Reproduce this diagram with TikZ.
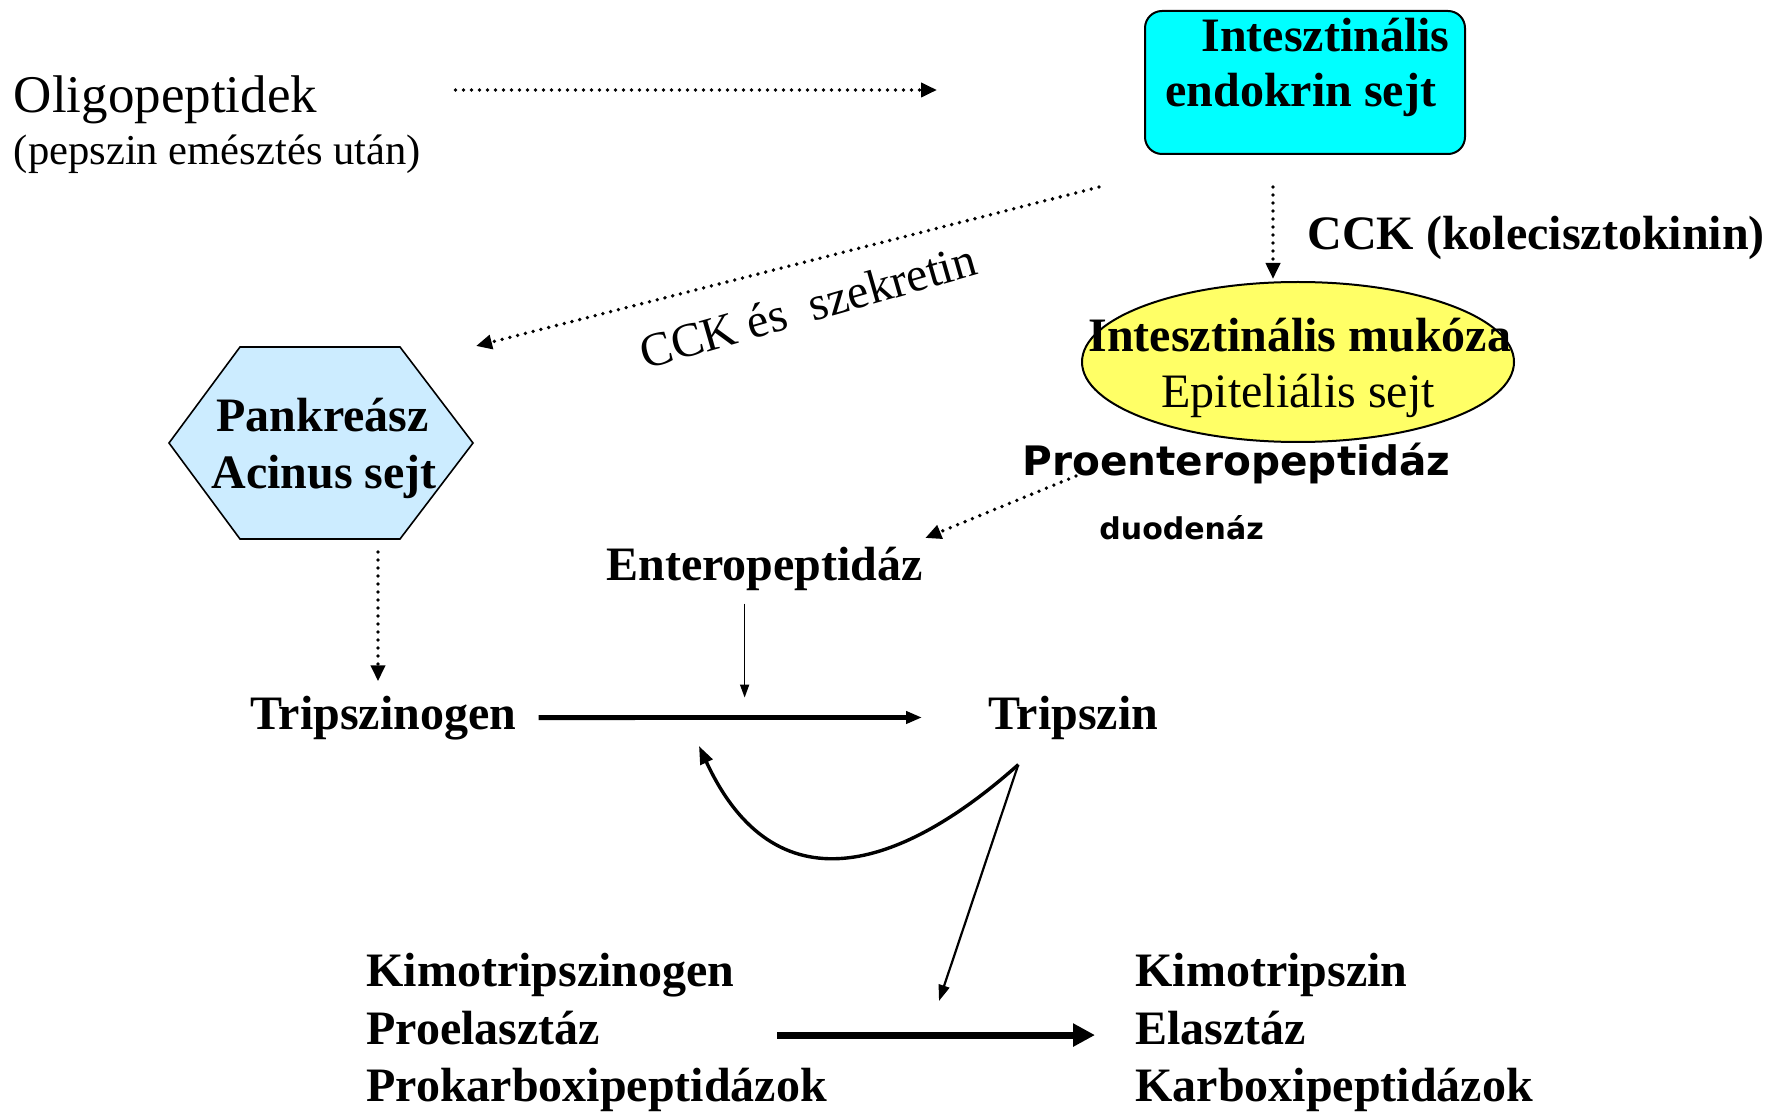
\documentclass[tikz,border=0pt]{standalone}
\usepackage{fontspec}
\setmainfont{Liberation Serif}
\newfontfamily\blacksans{DejaVu Sans}
\usetikzlibrary{arrows.meta,calc,shapes.geometric}
\definecolor{endocyan}{HTML}{00FFFF}
\definecolor{mucyellow}{HTML}{FFFF66}
\definecolor{acinblue}{HTML}{CCECFF}
\tikzset{
  lbl/.style={inner sep=0pt, anchor=base west, font=\fontsize{24}{28}\selectfont\bfseries},
  plain/.style={inner sep=0pt, anchor=base west, font=\fontsize{24}{28}\selectfont},
  cell/.style={draw=black, line width=1pt},
  dotarr/.style={-{Triangle[length=8pt,width=7pt]}, line width=1.9pt, dash pattern=on 0pt off 4pt, line cap=round},
  thinarr/.style={-{Triangle[length=6.5pt,width=4.5pt]}, line width=0.8pt},
  thickarr/.style={-{Triangle[length=8pt,width=6pt]}, line width=2.4pt},
  curvearr/.style={-{Triangle[length=9pt,width=6.5pt]}, line width=1.7pt},
  medarr/.style={-{Triangle[length=8pt,width=5.5pt]}, line width=1.1pt},
  bigarr/.style={-{Triangle[length=11pt,width=11pt]}, line width=3.5pt}
}
\begin{document}
\begin{tikzpicture}[x=0.5pt,y=-0.5pt]
  \useasboundingbox (0,0) rectangle (1767,1112);
  \node[plain, font=\fontsize{26.5}{30}\selectfont] (oligo) at (13.5,113) {Oligopeptidek};
  \node[plain, font=\fontsize{21.3}{25}\selectfont] (pepsin) at (13.5,164.5) {(pepszin emésztés után)};
  \node[cell, fill=endocyan, rounded corners=8.5pt, minimum width=160pt, minimum height=71.5pt, inner sep=0pt] (endo) at (1305,82.5) {};
  \node[lbl] (endoA) at (1201,52) {Intesztinális};
  \node[lbl] (endoB) at (1165,107) {endokrin sejt};
  \node[lbl] (cck) at (1307,250) {CCK (kolecisztokinin)};
  \node[cell, fill=mucyellow, ellipse, minimum width=216pt, minimum height=80pt, inner sep=0pt] (mucosa) at (1298,362) {};
  \node[lbl] (mucA) at (1088,352) {Intesztinális mukóza};
  \node[plain] (mucB) at (1161,408) {Epiteliális sejt};
  \node[inner sep=0pt, anchor=base west, font=\blacksans\bfseries\fontsize{20.3}{24}\selectfont] (proent) at (1022,476) {Proenteropeptidáz};
  \node[inner sep=0pt, anchor=base west, font=\blacksans\bfseries\fontsize{15}{18}\selectfont] (duod) at (1099,539) {duodenáz};
  % acinus cell
  \draw[cell, line width=0.8pt, fill=acinblue] (169,443) -- (240,347) -- (400,347) coordinate (hexNE) -- (473,443) -- (400,539) -- (240,539) -- cycle;
  \coordinate (hexS) at (378,539);
  \node[lbl] (panc) at (216,432) {Pankreász};
  \node[lbl] (acin) at (211,488) {Acinus sejt};
  \node[plain, anchor=center, rotate=16] (cckSek) at (808,306) {CCK és\ \ szekretin};
  \node[lbl] (entero) at (606,580) {Enteropeptidáz};
  \node[lbl] (tgen) at (250,729) {Tripszinogen};
  \node[lbl] (tsin) at (988,729) {Tripszin};
  \node[lbl] (kgen) at (366,986) {Kimotripszinogen};
  \node[lbl] (proel) at (366,1044) {Proelasztáz};
  \node[lbl] (pcarb) at (366,1101) {Prokarboxipeptidázok};
  \node[lbl] (ksin) at (1135,986) {Kimotripszin};
  \node[lbl] (elast) at (1135,1044) {Elasztáz};
  \node[lbl] (carb) at (1135,1101) {Karboxipeptidázok};

  \draw[dotarr] ($(oligo.base east)+(138,-23)$) -- ($(endo.west)+(-207,7.5)$);
  \draw[dotarr] ($(endo.south)+(-206,32)$) -- ($(hexNE)+(76,-1)$);
  \draw[dotarr] ($(endo.south)+(-32,32)$) -- ($(mucosa.north)+(-25,-2)$);
  \draw[dotarr] ($(proent.base west)+(54,0)$) -- ($(entero.base east)+(2,-42)$);
  \draw[dotarr] ($(hexS)+(0,13)$) -- ($(hexS |- tgen.north)+(0,-14)$);
  \draw[thinarr] ($(entero.south)+(-20,13)$) -- ($(entero.south)+(-20,107)$);
  \draw[thickarr, shorten <=11pt, shorten >=33pt] (tgen.east) -- (tsin.west);
  \coordinate (tsOut) at ($(tsin.south)+(-55,25)$);
  \coordinate (fbTip) at (699,746);
  \coordinate (actTip) at (939,1001);
  \draw[curvearr] (tsOut) .. controls (900,870) and (775,910) .. (fbTip);
  \draw[medarr] (tsOut) -- (actTip);
  \draw[bigarr] ($(proel.east)+(177,7.5)$) -- ($(elast.west)+(-40,7.5)$);
\end{tikzpicture}
\end{document}
